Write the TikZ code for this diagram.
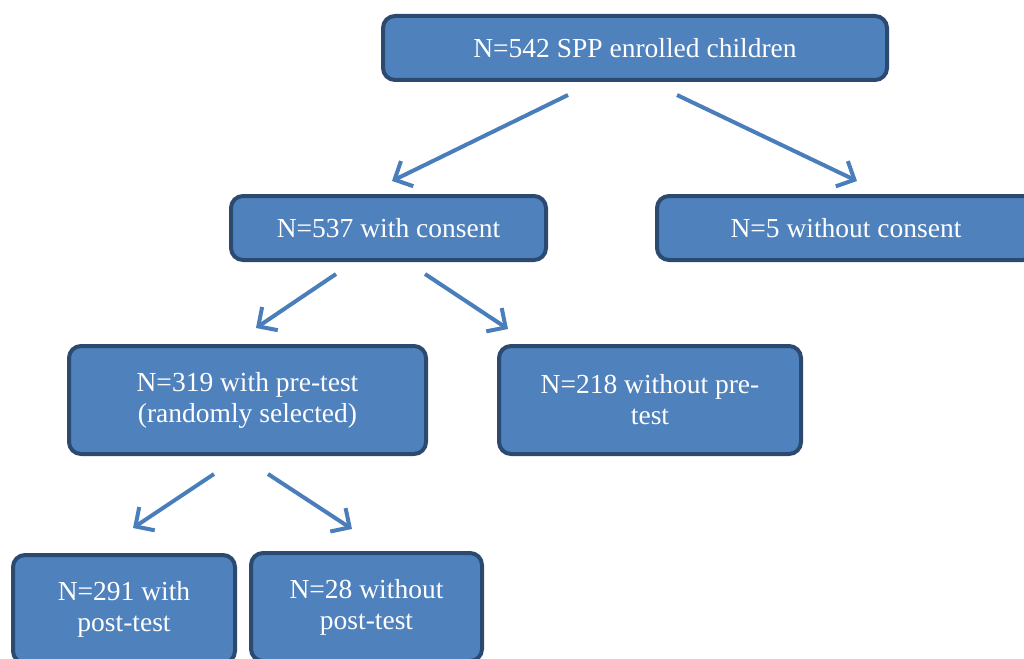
\documentclass[tikz,border=0pt]{standalone}
\usepackage{fontspec}
\setmainfont{Liberation Serif}
\usetikzlibrary{arrows.meta,calc}
\definecolor{boxfill}{HTML}{4F81BD}
\definecolor{boxline}{HTML}{2C4A70}
\definecolor{arrcol}{HTML}{4A7EBB}
\tikzset{
  box/.style={draw=boxline, fill=boxfill, line width=4pt, rounded corners=12pt,
    text=white, align=center, inner sep=0pt,
    font=\fontsize{27.5}{31}\selectfont},
  arr/.style={draw=arrcol, line width=4pt,
    -{Straight Barb[length=14pt,width=28pt,line width=4pt]}}
}
\begin{document}
\begin{tikzpicture}[x=1pt,y=-1pt]
\useasboundingbox (0,0) rectangle (1024,658);
\clip (0,0) rectangle (1024,658);
\node[box, minimum width=504pt, minimum height=64pt] (top) at (635,48) {N=542 SPP enrolled children};
\node[box, minimum width=315pt, minimum height=64pt] (cons) at (388.5,228) {N=537 with consent};
\node[box, minimum width=378pt, minimum height=64pt] (nocons) at (846,228) {N=5 without consent};
\node[box, minimum width=357pt, minimum height=108pt] (pre) at (247.5,400) {N=319 with pre-test\\(randomly selected)};
\node[box, minimum width=302pt, minimum height=108pt] (nopre) at (650,400) {N=218 without pre-\\test};
\node[box, minimum width=222pt, minimum height=108pt] (p291) at (124,609) {N=291 with\\post-test};
\node[box, minimum width=231pt, minimum height=108pt] (p28) at (366.5,607) {N=28 without\\post-test};
\draw[arr] ($(top.south)+(-67,13)$) -- ($(cons.north)+(3.5,-13)$);
\draw[arr] ($(top.south)+(42,13)$) -- ($(nocons.north)+(11,-13)$);
\draw[arr] ($(cons.south)+(-52.5,12)$) -- ($(pre.north)+(8.5,-16)$);
\draw[arr] ($(cons.south)+(36.5,12)$) -- ($(nopre.north)+(-142,-15)$);
\draw[arr] ($(pre.south)+(-33.5,18)$) -- ($(p291.north)+(9,-25)$);
\draw[arr] ($(pre.south)+(20.5,18)$) -- ($(p28.north)+(-14.5,-22)$);
\end{tikzpicture}
\end{document}
